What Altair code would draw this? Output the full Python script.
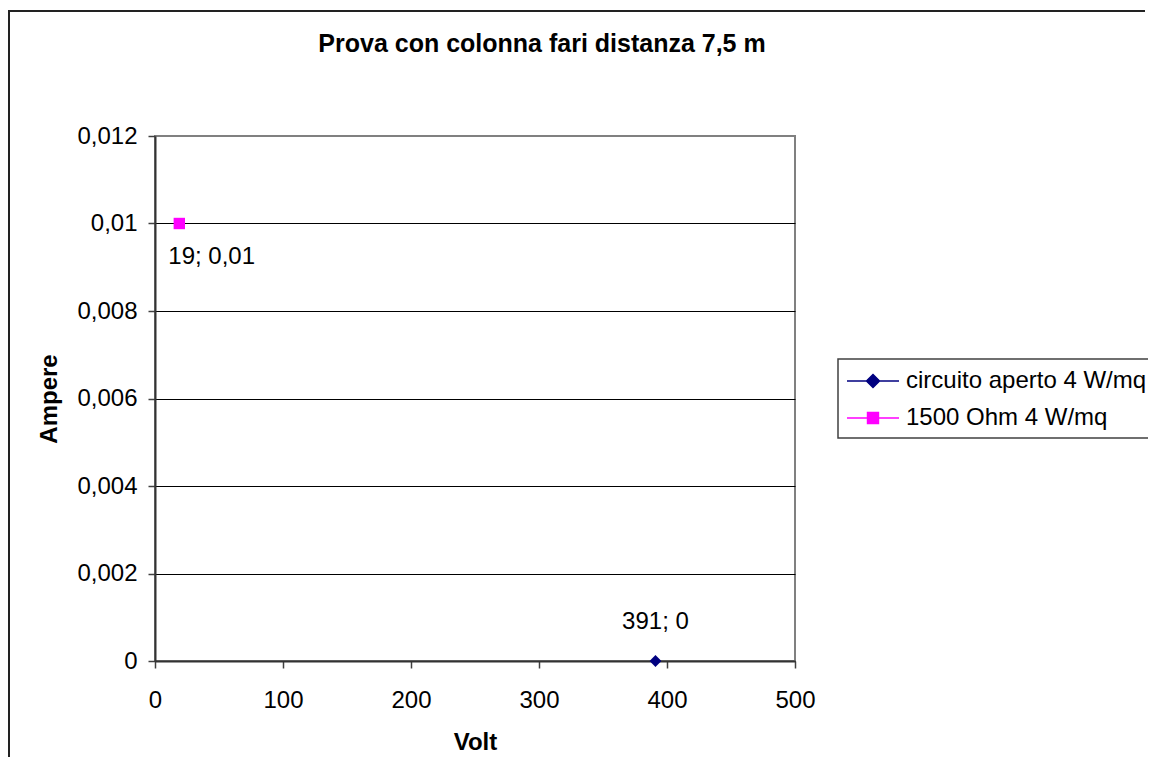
import altair as alt
import pandas as pd

FONT = "Liberation Sans, Arial, sans-serif"

# ---- data ----
series = ["circuito aperto 4 W/mq", "1500 Ohm 4 W/mq"]
volt = [391, 19]
ampere = [0, 0.01]
colors = ["#000080", "#FF00FF"]
shapes = ["diamond", "square"]
legend_shapes = [
    "M-1,0L3,0M1,-0.5L1.5,0L1,0.5L0.5,0Z",
    "M-1,0L3,0M0.58,-0.42L1.42,-0.42L1.42,0.42L0.58,0.42Z",
]
x_ticks = [0, 100, 200, 300, 400, 500]
y_ticks = [0, 0.002, 0.004, 0.006, 0.008, 0.01, 0.012]
title_text = "Prova con colonna fari distanza 7,5 m"


def fmt(v):
    return f"{v:g}".replace(".", ",")


labels = [f"{fmt(v)}; {fmt(a)}" for v, a in zip(volt, ampere)]
df = pd.DataFrame({"series": series, "volt": volt, "ampere": ampere, "label": labels})

x_enc = alt.X(
    "volt:Q",
    scale=alt.Scale(domain=[0, 500], nice=False, zero=False),
    axis=alt.Axis(
        values=x_ticks, title="Volt", grid=False, labelPadding=20,
        labelFlush=False, labelOverlap=False,
        titleX=320, titleY=81, titleBaseline="middle",
    ),
)
y_enc = alt.Y(
    "ampere:Q",
    scale=alt.Scale(domain=[0, 0.012], nice=False),
    axis=alt.Axis(
        values=y_ticks, title="Ampere", grid=True,
        gridColor={"condition": {"test": "datum.value >= 0.0119", "value": "transparent"}, "value": "black"},
        gridWidth=1,
        labelExpr="replace(format(datum.value, '.3~f'), '.', ',')",
        labelPadding=11, labelFlush=False, labelOverlap=False,
        titleX=-106, titleY=262.5, titleAngle=270, titleAlign="center", titleBaseline="middle",
    ),
)

base = alt.Chart(df)
one = alt.Data(values=[{"k": 0}])

border_left = alt.Chart(one).mark_rule(stroke="#222222", strokeWidth=2).encode(
    x=alt.value(-146), y=alt.value(-126), y2=alt.value(900)
)
border_top = alt.Chart(one).mark_rule(stroke="#222222", strokeWidth=2).encode(
    x=alt.value(-147), x2=alt.value(990), y=alt.value(-125)
)

pts1 = base.transform_filter(alt.datum.series == series[0]).mark_point(
    filled=True, opacity=1, size=140, shape=shapes[0], color=colors[0]
).encode(x=x_enc, y=y_enc)

pts2 = base.transform_filter(alt.datum.series == series[1]).mark_point(
    filled=True, opacity=1, size=130, shape=shapes[1], color=colors[1]
).encode(x=x_enc, y=y_enc)

lab1 = base.transform_filter(alt.datum.series == series[0]).mark_text(
    font=FONT, fontSize=24, color="black", align="center", baseline="alphabetic", dy=-32
).encode(x=x_enc, y=y_enc, text="label:N")

lab2 = base.transform_filter(alt.datum.series == series[1]).mark_text(
    font=FONT, fontSize=24, color="black", align="left", baseline="alphabetic", dx=-11, dy=40
).encode(x=x_enc, y=y_enc, text="label:N")

leg = alt.Legend(
    title=None, orient="none", legendX=683, legendY=223,
    symbolSize=676, symbolStrokeWidth=1.5, symbolOpacity=1,
    labelFont=FONT, labelFontSize=24, labelColor="black", labelOffset=32, labelLimit=400,
    padding=8, rowPadding=11, strokeColor="#404040",
)

legend_layer = base.mark_point(filled=True, opacity=0).encode(
    fill=alt.Fill("series:N", scale=alt.Scale(domain=series, range=colors), legend=leg),
    stroke=alt.Stroke("series:N", scale=alt.Scale(domain=series, range=colors), legend=leg),
    shape=alt.Shape("series:N", scale=alt.Scale(domain=series, range=legend_shapes), legend=leg),
)

chart = (
    alt.layer(border_left, border_top, pts1, pts2, lab1, lab2, legend_layer)
    .properties(
        width=640,
        height=525,
        padding={"left": 147, "top": 128, "right": 353, "bottom": 96},
        autosize=alt.AutoSizeParams(type="none"),
        title=alt.TitleParams(
            text=title_text, font=FONT, fontSize=25, fontWeight="bold", color="black",
            anchor="middle", frame="group", dx=67, dy=68, offset=0, baseline="alphabetic",
        ),
        background="white",
    )
    .configure_view(stroke="#808080", strokeWidth=2)
    .configure_axis(
        labelFont=FONT, labelFontSize=24, labelColor="black",
        titleFont=FONT, titleFontSize=24, titleFontWeight="bold", titleColor="black",
        domainColor="#333333", domainWidth=2, tickColor="#404040", tickSize=7, tickWidth=1.5,
    )
    .configure_legend(strokeWidth=1.5)
)

chart.save("out.html", embed_options={"renderer": "svg", "actions": False})
